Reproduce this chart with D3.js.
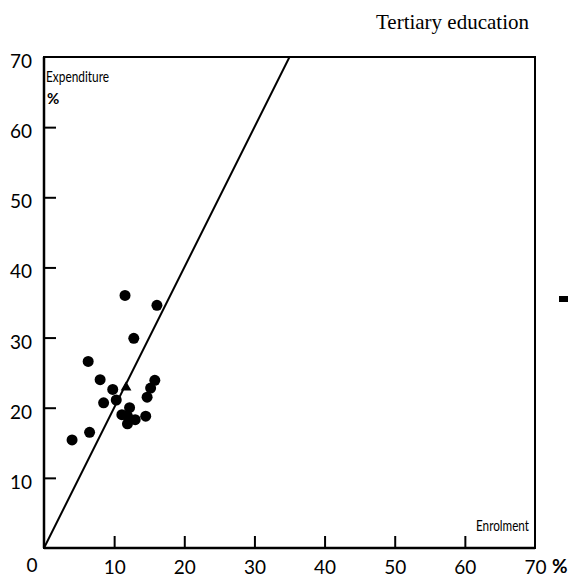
<!DOCTYPE html>
<html><head><meta charset="utf-8">
<script src="https://cdn.jsdelivr.net/npm/d3@7"></script>
<style>html,body{margin:0;padding:0;background:#fff;}</style>
</head><body>
<script>
// Data (enrolment %, expenditure %)
const enrolment   = [11.55,16.1,12.8,6.3,8.0,9.8,15.8,15.2,14.7,10.3,8.5,12.2,11.1,11.9,13.0,11.9,14.5,6.5,4.0];
const expenditure = [36.0,34.6,29.9,26.6,24.0,22.6,23.9,22.8,21.5,21.1,20.7,20.0,19.0,18.8,18.3,17.7,18.8,16.5,15.4];
const triangleX = [11.7];
const triangleY = [22.9];
const refLineX = [0, 35];
const refLineY = [0, 70];
const xTicks = [10,20,30,40,50,60,70];
const yTicks = [10,20,30,40,50,60,70];

const W = 574, H = 577;
const L = 44, R = 535, T = 57, B = 548;
const svg = d3.select("body").append("svg").attr("width", W).attr("height", H);
const x = d3.scaleLinear().domain([0,70]).range([L,R]);
const y = d3.scaleLinear().domain([0,70]).range([B,T]);
const numFont = "Lato, 'DejaVu Sans', sans-serif";

// title
svg.append("text").attr("x", 529).attr("y", 29).attr("text-anchor","end")
  .attr("font-family","'Liberation Serif','Times New Roman',serif").attr("font-size",21)
  .text("Tertiary education");

// axes
const yAxis = d3.axisLeft(y).tickValues(yTicks).tickSize(-12).tickPadding(12).tickFormat(d3.format("d"));
const gy = svg.append("g").attr("transform",`translate(${L},0)`).call(yAxis);
const xAxis = d3.axisBottom(x).tickValues(xTicks).tickSize(-12).tickPadding(13).tickFormat(d3.format("d"));
const gx = svg.append("g").attr("transform",`translate(0,${B})`).call(xAxis);
[gx,gy].forEach(g=>{
  g.select(".domain").remove();
  g.selectAll(".tick line").attr("stroke","#000").attr("stroke-width",2);
  g.selectAll(".tick text").attr("font-family",numFont).attr("font-size",19).attr("fill","#000");
});
gy.selectAll(".tick text").attr("dy","0.55em");
gx.selectAll(".tick").filter(d=>d===70).select("line").remove();
gy.selectAll(".tick").filter(d=>d===70).select("line").remove();

svg.append("text").attr("x", 32).attr("y", 572).attr("text-anchor","middle")
  .attr("font-family",numFont).attr("font-size",19).text("0");
svg.append("text").attr("x", 552).attr("y", 573)
  .attr("font-family",numFont).attr("font-size",19).attr("font-weight","bold").text("%");

// frame
svg.append("rect").attr("x",L).attr("y",T).attr("width",R-L).attr("height",B-T)
  .attr("fill","none").attr("stroke","#000").attr("stroke-width",2);
svg.append("line").attr("x1",L).attr("x2",L).attr("y1",T).attr("y2",B).attr("stroke","#000").attr("stroke-width",2.5);
svg.append("line").attr("x1",L).attr("x2",R).attr("y1",B).attr("y2",B).attr("stroke","#000").attr("stroke-width",2.5);

// axis titles
svg.append("text").attr("x",46).attr("y",82).attr("font-family",numFont).attr("font-size",15)
  .attr("textLength",63).attr("lengthAdjust","spacingAndGlyphs").text("Expenditure");
svg.append("text").attr("x",47).attr("y",104).attr("font-family",numFont).attr("font-size",15).attr("font-weight","bold")
  .text("%");
svg.append("text").attr("x",476).attr("y",531).attr("font-family",numFont).attr("font-size",15)
  .attr("textLength",53).attr("lengthAdjust","spacingAndGlyphs").text("Enrolment");

// reference line
svg.append("line").attr("x1",x(refLineX[0])).attr("y1",y(refLineY[0]))
  .attr("x2",x(refLineX[1])).attr("y2",y(refLineY[1])).attr("stroke","#000").attr("stroke-width",2);

// points
svg.append("g").selectAll("circle").data(enrolment.map((d,i)=>[d,expenditure[i]])).join("circle")
  .attr("cx",d=>x(d[0])).attr("cy",d=>y(d[1])).attr("r",5.5).attr("fill","#000");
svg.append("g").selectAll("path").data(triangleX.map((d,i)=>[d,triangleY[i]])).join("path")
  .attr("d",d3.symbol(d3.symbolTriangle,50)).attr("transform",d=>`translate(${x(d[0])},${y(d[1])})`).attr("fill","#000");

// side mark
svg.append("rect").attr("x",559).attr("y",296).attr("width",9).attr("height",6).attr("fill","#000");
</script>
</body></html>
